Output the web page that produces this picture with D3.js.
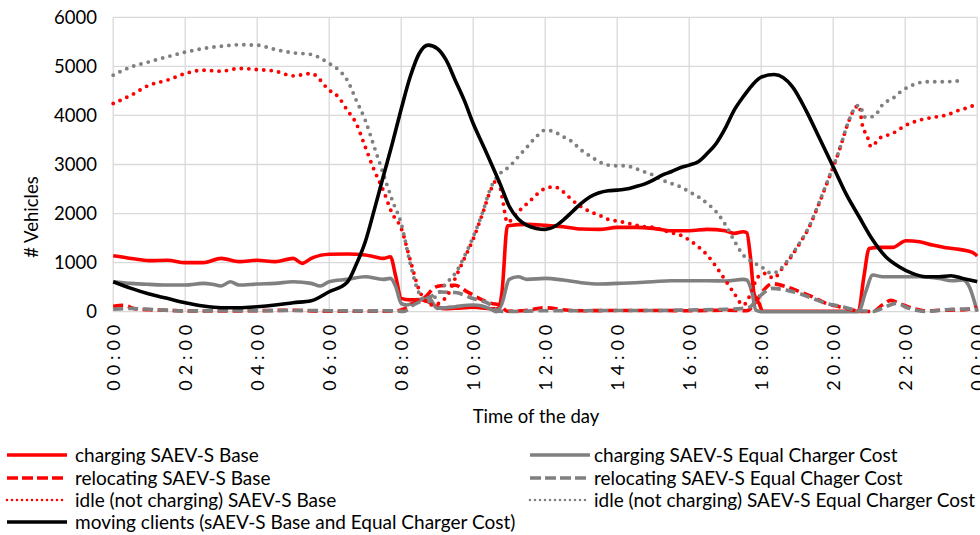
<!DOCTYPE html>
<html><head><meta charset="utf-8">
<script src="https://cdn.jsdelivr.net/npm/d3@7"></script>
<style>
body{margin:0;background:#fff}
svg{display:block}
text{font-family:Lato,"Open Sans",sans-serif;fill:#000}
</style>
</head><body>
<svg id="chart" width="980" height="535"></svg>
<script>
// ---- data (hour of day, # vehicles) ----
const xTickHours = [0,2,4,6,8,10,12,14,16,18,20,22,24];
const xTickLabels = ["00:00","02:00","04:00","06:00","08:00","10:00","12:00","14:00","16:00","18:00","20:00","22:00","00:00"];
const yTickValues = [0,1000,2000,3000,4000,5000,6000];

const chargingBase = [[0,1140],[0.5,1086],[1,1040],[1.5,1050],[2,1000],[2.5,1000],[3,1086],[3.5,1020],[4,1050],[4.5,1020],[5,1086],[5.25,985],[5.5,1086],[6,1170],[6.5,1175],[7,1155],[7.25,1120],[7.5,1086],[7.7,1120],[7.85,713],[8,272],[8.25,240],[8.5,250],[8.75,200],[9,100],[9.2,60],[9.5,70],[10,90],[10.5,60],[10.7,60],[10.8,400],[10.95,1750],[11.5,1780],[12,1760],[12.5,1731],[13,1684],[13.5,1677],[14,1718],[14.5,1718],[15,1698],[15.5,1650],[16,1650],[16.5,1677],[17,1650],[17.25,1596],[17.5,1630],[17.6,1609],[17.7,1120],[17.8,373],[17.94,170],[18.04,10],[20.7,10],[20.85,700],[21,1290],[21.28,1310],[21.65,1310],[22.02,1446],[22.4,1426],[22.76,1358],[23.13,1303],[23.5,1270],[23.87,1209],[24,1134]];
const chargingEqual = [[0,611],[0.5,577],[1,557],[1.5,543],[2,543],[2.5,577],[2.75,560],[3,523],[3.25,611],[3.5,543],[4,563],[4.5,577],[5,611],[5.5,577],[5.75,523],[6,611],[6.5,659],[7,713],[7.5,659],[7.7,679],[7.85,509],[8,170],[8.15,136],[8.5,238],[8.75,300],[9,68],[9.25,81],[9.5,102],[10,136],[10.25,115],[10.5,48],[10.65,0],[10.8,170],[11,659],[11.25,713],[11.5,659],[12,679],[12.5,645],[13,591],[13.5,564],[14,577],[14.5,591],[15,611],[15.5,631],[16,631],[16.5,631],[17,625],[17.5,659],[17.6,645],[17.75,373],[17.85,34],[18,0],[20.7,0],[20.9,400],[21.1,747],[21.37,713],[21.83,713],[22.4,713],[22.94,679],[23.3,631],[23.6,645],[23.78,509],[24,0]];
const relocatingBase = [[0,110],[0.3,130],[0.6,60],[1,40],[1.5,30],[2,15],[3,15],[4,20],[5,30],[5.5,15],[6,10],[7,10],[7.8,15],[8.1,60],[8.4,200],[8.7,320],[8.9,480],[9.1,530],[9.5,540],[9.8,420],[10.25,240],[10.5,170],[10.75,130],[10.95,10],[11.5,30],[12,80],[12.5,40],[13,20],[14,25],[15,25],[16,20],[17,30],[17.6,20],[17.85,200],[18.05,420],[18.3,570],[18.7,510],[19.06,410],[19.43,300],[19.8,170],[20.17,100],[20.54,35],[20.75,5],[21.1,5],[21.37,140],[21.6,230],[21.83,170],[22.2,70],[22.57,15],[23.04,30],[23.5,35],[23.87,65],[24,100]];
const relocatingEqual = [[0,50],[0.5,65],[1,50],[2,15],[3,20],[4,20],[5,25],[6,20],[7,15],[7.8,20],[8.07,5],[8.3,120],[8.54,210],[8.8,300],[9.1,400],[9.5,390],[9.95,280],[10.5,135],[10.7,10],[11,5],[12,20],[13,20],[14,25],[15,25],[16,35],[17,48],[17.5,68],[17.7,100],[17.85,230],[18,340],[18.3,475],[18.7,440],[19.06,370],[19.43,270],[19.8,170],[20.17,115],[20.63,35],[21.1,5],[21.46,100],[21.74,170],[22.1,70],[22.57,5],[23.04,35],[23.5,55],[24,50]];
const idleBase = [[0,4244],[0.5,4414],[1,4617],[1.5,4719],[2,4855],[2.5,4922],[3,4902],[3.5,4957],[4,4936],[4.5,4902],[5,4807],[5.5,4855],[6,4515],[6.25,4380],[6.5,4108],[6.75,3836],[7,3361],[7.25,2886],[7.5,2478],[7.75,2003],[8,1700],[8.25,1054],[8.5,441],[8.75,170],[8.9,136],[9.1,200],[9.3,350],[9.5,680],[9.75,1080],[10,1480],[10.25,1980],[10.5,2500],[10.68,2700],[10.8,2350],[10.95,1820],[11.2,2000],[11.55,2240],[12,2512],[12.25,2546],[12.5,2444],[12.75,2275],[13,2139],[13.25,2037],[13.5,1969],[13.75,1881],[14,1847],[14.25,1813],[14.5,1765],[14.75,1731],[15,1718],[15.25,1664],[15.5,1609],[15.75,1562],[16,1460],[16.25,1324],[16.5,1154],[16.75,917],[17,645],[17.25,373],[17.5,136],[17.7,350],[17.9,700],[18.1,780],[18.35,680],[18.55,850],[18.8,1086],[19.06,1380],[19.33,1720],[19.6,2190],[19.89,2740],[20.17,3290],[20.44,3900],[20.63,4170],[20.72,4200],[20.8,3836],[20.95,3565],[21.05,3361],[21.28,3531],[21.65,3633],[22.02,3802],[22.4,3904],[22.76,3959],[23.13,4006],[23.5,4108],[23.87,4196],[24,4250]];
const idleEqual = [[0,4821],[0.5,4990],[1,5093],[1.5,5194],[2,5290],[2.5,5364],[3,5411],[3.5,5440],[4,5432],[4.5,5344],[5,5276],[5.5,5242],[6,5058],[6.25,4936],[6.5,4719],[6.75,4312],[7,3904],[7.25,3361],[7.5,2818],[7.75,2275],[8,1799],[8.25,985],[8.5,373],[8.75,204],[9,340],[9.25,577],[9.5,781],[9.75,1120],[10,1528],[10.25,2003],[10.5,2546],[10.75,2818],[11,2954],[11.25,3157],[11.5,3361],[11.75,3565],[12,3700],[12.25,3667],[12.5,3565],[12.75,3463],[13,3293],[13.25,3171],[13.5,3056],[13.75,2988],[14,2974],[14.25,2974],[14.5,2920],[14.75,2852],[15,2784],[15.25,2682],[15.5,2614],[15.75,2546],[16,2444],[16.25,2343],[16.5,2207],[16.75,2037],[17,1780],[17.25,1450],[17.5,1154],[17.75,1018],[18,917],[18.3,781],[18.5,849],[18.78,1086],[19.06,1392],[19.33,1731],[19.6,2207],[19.89,2750],[20.17,3293],[20.44,3904],[20.63,4176],[20.72,4210],[20.9,3959],[21.13,3986],[21.4,4244],[21.65,4346],[21.93,4515],[22.2,4617],[22.57,4685],[23.04,4685],[23.5,4705]];
const movingClients = [[0,611],[0.5,475],[1,360],[1.5,272],[2,183],[2.5,115],[3,81],[3.5,81],[4,102],[4.5,136],[5,183],[5.5,224],[6,407],[6.5,600],[6.75,960],[7,1420],[7.25,2070],[7.5,2750],[7.75,3420],[8,4130],[8.25,4787],[8.5,5262],[8.75,5432],[9,5364],[9.25,5126],[9.5,4719],[9.75,4312],[10,3836],[10.25,3429],[10.5,3022],[10.75,2600],[11,2150],[11.25,1890],[11.5,1760],[11.75,1698],[12,1677],[12.25,1731],[12.5,1867],[12.75,2037],[13,2207],[13.25,2343],[13.5,2424],[13.75,2465],[14,2478],[14.25,2499],[14.5,2546],[14.75,2601],[15,2682],[15.25,2784],[15.5,2852],[15.75,2933],[16,2988],[16.25,3056],[16.5,3225],[16.75,3429],[17,3735],[17.25,4108],[17.5,4380],[17.75,4617],[18,4780],[18.36,4834],[18.87,4583],[19.24,4108],[19.6,3565],[20,2954],[20.35,2410],[20.72,1935],[21.1,1460],[21.46,1120],[21.83,917],[22.2,781],[22.57,713],[22.94,713],[23.27,733],[23.6,679],[24,611]];

const seriesNames = [
  "charging SAEV-S Base",
  "charging SAEV-S Equal Charger Cost",
  "relocating SAEV-S Base",
  "relocating SAEV-S Equal Chager Cost",
  "idle (not charging) SAEV-S Base",
  "idle (not charging) SAEV-S Equal Charger Cost",
  "moving clients (sAEV-S Base and Equal Charger Cost)"
];
const seriesData = [chargingBase, chargingEqual, relocatingBase, relocatingEqual, idleBase, idleEqual, movingClients];

// ---- styles ----
const RED = "#ff0000", GRAY = "#808080", BLACK = "#000000";
const styles = [
  {color:RED, kind:"solid"},
  {color:GRAY, kind:"solid"},
  {color:RED, kind:"dash"},
  {color:GRAY, kind:"dash"},
  {color:RED, kind:"dot"},
  {color:GRAY, kind:"dot"},
  {color:BLACK, kind:"solid"}
];

const svg = d3.select("#chart");
const x = d3.scaleLinear().domain([0,24]).range([113.2, 977.2]);
const y = d3.scaleLinear().domain([0,6000]).range([311.7, 17.3]);

// gridlines
const grid = svg.append("g");
grid.selectAll("line.h").data(yTickValues).join("line")
  .attr("x1", x(0)).attr("x2", x(24))
  .attr("y1", d => y(d)).attr("y2", d => y(d))
  .attr("stroke", "#d9d9d9").attr("stroke-width", 1.3);
grid.selectAll("line.v").data(xTickHours).join("line")
  .attr("x1", d => x(d)).attr("x2", d => x(d))
  .attr("y1", y(6000)).attr("y2", y(0))
  .attr("stroke", "#d9d9d9").attr("stroke-width", 1.3);

// y axis labels
const yAxis = d3.axisLeft(y).tickValues(yTickValues).tickSize(0).tickPadding(0).tickFormat(d3.format("d"));
const gy = svg.append("g").attr("transform", `translate(97,0)`).call(yAxis);
gy.select(".domain").remove();
gy.selectAll("text").attr("font-family", "Lato").attr("font-size", 18.5).attr("fill", "#000");

// x axis labels
const xAxis = d3.axisBottom(x).tickValues(xTickHours).tickSize(0).tickFormat((d,i) => xTickLabels[i]);
const gx = svg.append("g").attr("transform", `translate(0,${y(0)})`).call(xAxis);
gx.select(".domain").remove();
gx.selectAll("text")
  .attr("font-family", "Lato").attr("font-size", 18).attr("fill", "#000")
  .attr("text-anchor", "end")
  .attr("transform", "rotate(-90)")
  .attr("x", -13).attr("y", 0).attr("dy", "0.35em")
  .attr("textLength", 66).attr("lengthAdjust", "spacing");

// axis titles
svg.append("text").attr("transform", "translate(38,217) rotate(-90)")
  .attr("text-anchor", "middle").attr("font-size", 18.5).text("# Vehicles");
svg.append("text").attr("x", 536).attr("y", 423)
  .attr("text-anchor", "middle").attr("font-size", 18.5).text("Time of the day");

// lines
const line = d3.line().x(d => x(d[0])).y(d => y(d[1])).curve(d3.curveMonotoneX);
function applyStyle(sel, st, legend) {
  sel.attr("fill", "none").attr("stroke", st.color);
  if (st.kind === "solid") sel.attr("stroke-width", 3.6);
  if (st.kind === "dash") sel.attr("stroke-width", 3.6).attr("stroke-dasharray", legend ? "11 4" : "10 5");
  if (st.kind === "dot") sel.attr("stroke-width", legend ? 2.6 : 3.9).attr("stroke-linecap", "round").attr("stroke-dasharray", legend ? "0 5" : "0 7.5");
}
const plot = svg.append("g");
seriesData.forEach((data, i) => {
  const p = plot.append("path").datum(data).attr("d", line).attr("stroke-linejoin", "round");
  applyStyle(p, styles[i], false);
});

// legend
const legendPos = [
  {lx:5, tx:75, y:455},
  {lx:528, tx:594, y:455},
  {lx:5, tx:75, y:478},
  {lx:528, tx:594, y:478},
  {lx:5, tx:75, y:500},
  {lx:528, tx:594, y:500},
  {lx:5, tx:75, y:522}
];
const lg = svg.append("g");
seriesNames.forEach((name, i) => {
  const p = legendPos[i];
  const l = lg.append("line").attr("x1", p.lx + 2).attr("x2", p.lx + 62).attr("y1", p.y).attr("y2", p.y);
  applyStyle(l, styles[i], true);
  lg.append("text").attr("x", p.tx).attr("y", p.y).attr("dy", "0.35em")
    .attr("font-size", 19).text(name);
});
</script>
</body></html>
